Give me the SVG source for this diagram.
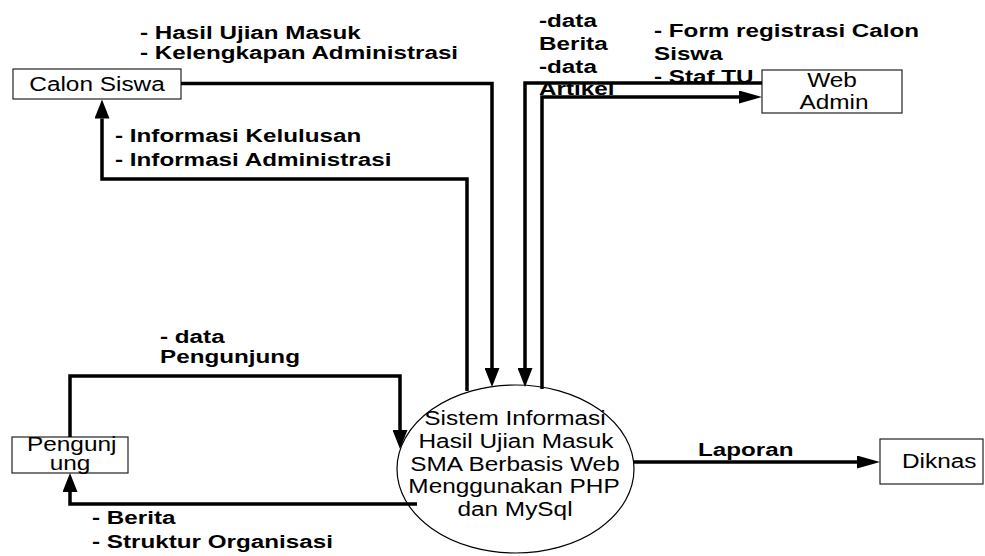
<svg xmlns="http://www.w3.org/2000/svg" width="985" height="556" viewBox="0 0 985 556">
<style>
  text { font-family: "Liberation Sans", Arial, sans-serif; fill: #000; }
  .lbl { font-size: 18.5px; font-weight: bold; }
  .nt { font-size: 19.5px; }
  .mid { text-anchor: middle; }
  .box { fill: #fff; stroke: #222; stroke-width: 1.2; }
  .flow { fill: none; stroke: #000; stroke-width: 3.5; stroke-linejoin: miter; }
</style>
<defs>
  <marker id="av" viewBox="0 0 19 15" refX="0" refY="7.5" markerWidth="19" markerHeight="15" markerUnits="userSpaceOnUse" orient="auto">
    <path d="M0,0 L19,7.5 L0,15 z" fill="#000"/>
  </marker>
  <marker id="ah" viewBox="0 0 23 13" refX="0" refY="6.5" markerWidth="23" markerHeight="13" markerUnits="userSpaceOnUse" orient="auto">
    <path d="M0,0 L23,6.5 L0,13 z" fill="#000"/>
  </marker>
</defs>

<rect width="985" height="556" fill="#fff"/>

<g id="calon-siswa">
  <rect class="box" x="13" y="69" width="168" height="30"/>
  <text class="nt mid" transform="translate(97,91) scale(1.25,1)">Calon Siswa</text>
</g>

<g id="web-admin">
  <rect class="box" x="762" y="70" width="140" height="43"/>
  <text class="nt mid" transform="translate(832,87) scale(1.25,1)">Web</text>
  <text class="nt mid" transform="translate(834,109) scale(1.25,1)">Admin</text>
</g>

<g id="pengunjung">
  <rect class="box" x="12" y="437" width="116" height="36"/>
  <text class="nt" transform="translate(27,451) scale(1.25,1)">Pengunj</text>
  <text class="nt mid" transform="translate(70,470) scale(1.25,1)">ung</text>
</g>

<g id="diknas">
  <rect class="box" x="880" y="439" width="103" height="45"/>
  <text class="nt" transform="translate(902,468) scale(1.25,1)">Diknas</text>
</g>

<g id="sistem">
  <ellipse cx="515.5" cy="469" rx="118.5" ry="84" fill="#fff" stroke="#000" stroke-width="1.2"/>
  <text class="nt mid" transform="translate(515,425) scale(1.25,1)">Sistem Informasi</text>
  <text class="nt mid" transform="translate(516,448) scale(1.25,1)">Hasil Ujian Masuk</text>
  <text class="nt mid" transform="translate(515,470.5) scale(1.25,1)">SMA Berbasis Web</text>
  <text class="nt mid" transform="translate(514,493) scale(1.25,1)">Menggunakan PHP</text>
  <text class="nt mid" transform="translate(515,515.5) scale(1.25,1)">dan MySql</text>
</g>

<g id="labels">
  <text class="lbl" transform="translate(140,39) scale(1.31,1)">- Hasil Ujian Masuk</text>
  <text class="lbl" transform="translate(140,59) scale(1.31,1)">- Kelengkapan Administrasi</text>
  <text class="lbl" transform="translate(115,142) scale(1.31,1)">- Informasi Kelulusan</text>
  <text class="lbl" transform="translate(115,166) scale(1.31,1)">- Informasi Administrasi</text>
  <text class="lbl" transform="translate(539,27) scale(1.31,1)">-data</text>
  <text class="lbl" transform="translate(539,50) scale(1.31,1)">Berita</text>
  <text class="lbl" transform="translate(539,73) scale(1.31,1)">-data</text>
  <text class="lbl" transform="translate(539,95) scale(1.31,1)">Artikel</text>
  <text class="lbl" transform="translate(654,37) scale(1.31,1)">- Form registrasi Calon</text>
  <text class="lbl" transform="translate(654,60) scale(1.31,1)">Siswa</text>
  <text class="lbl" transform="translate(654,83) scale(1.31,1)">- Staf TU</text>
  <text class="lbl" transform="translate(160,343) scale(1.31,1)">- data</text>
  <text class="lbl" transform="translate(160,363) scale(1.31,1)">Pengunjung</text>
  <text class="lbl" transform="translate(92,524) scale(1.31,1)">- Berita</text>
  <text class="lbl" transform="translate(92,548) scale(1.31,1)">- Struktur Organisasi</text>
  <text class="lbl" transform="translate(698,456) scale(1.31,1)">Laporan</text>
</g>

<g id="connectors">
  <path class="flow" d="M181,83.5 H492 V368" marker-end="url(#av)"/>
  <path class="flow" d="M467,391 V179 H102 V118.5" marker-end="url(#av)"/>
  <path class="flow" d="M762,83 H525 V368" marker-end="url(#av)"/>
  <path class="flow" d="M542,389 V97 H739" marker-end="url(#ah)"/>
  <path class="flow" d="M70,437 V376 H400 V430" marker-end="url(#av)"/>
  <path class="flow" d="M417,504 H70 V492" marker-end="url(#av)"/>
  <path class="flow" d="M634,462 H857" marker-end="url(#ah)"/>
</g>
</svg>
